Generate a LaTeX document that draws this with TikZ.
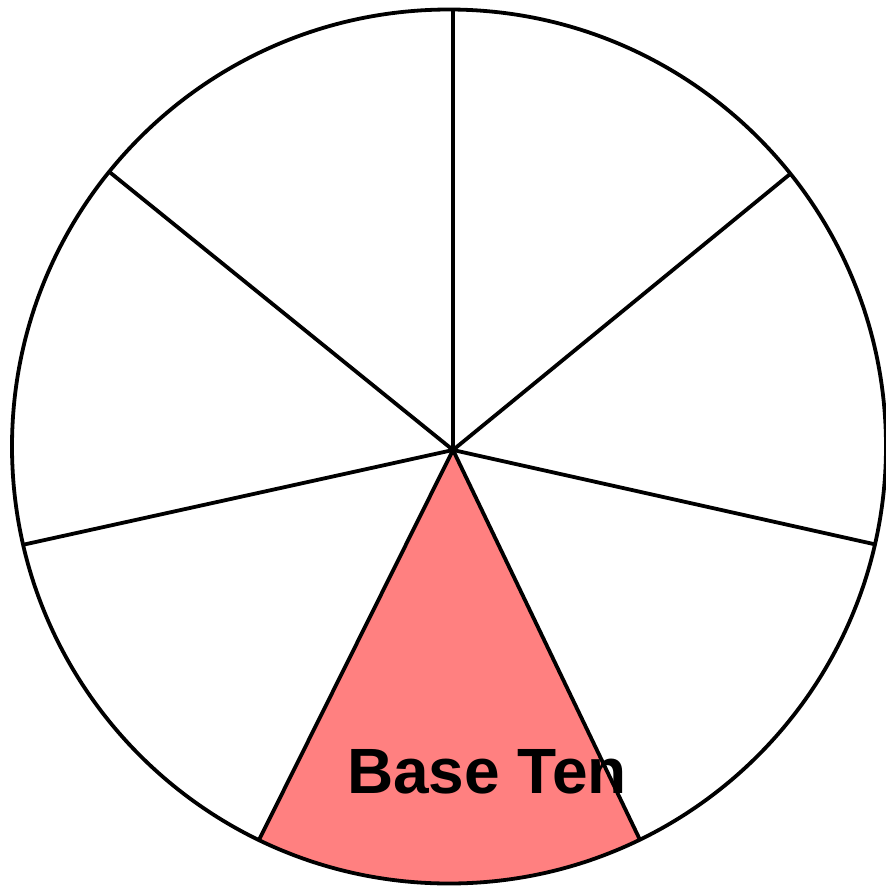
\documentclass[tikz,border=0pt]{standalone}
\usepackage{fontspec}
\setmainfont{Liberation Sans}
\usetikzlibrary{calc}
\definecolor{sectorpink}{HTML}{FF8080}
\begin{document}
\begin{tikzpicture}[x=1pt,y=-1pt,
  spoke/.style={draw=black,line width=3.8pt},
  rim/.style={draw=black,line width=3.8pt},
  label/.style={font=\bfseries\fontsize{64}{70}\selectfont,text=black,inner sep=0pt}]
\useasboundingbox (0,0) rectangle (886,887);
\coordinate (c) at (453,450);
\coordinate (p1) at (453,8);
\coordinate (p2) at (795,170);
\coordinate (p3) at (878,545);
\coordinate (p4) at (641,842);
\coordinate (p5) at (258,842);
\coordinate (p6) at (22,545);
\coordinate (p7) at (107,170);
\begin{scope}
  \clip (449,446.5) circle[radius=437];
  \fill[sectorpink] (c) -- ($(c)!1.2!(p5)$) -- ($(c)!1.2!(p4)$) -- cycle;
\end{scope}
\node[label] (t) at (487,772) {Base Ten};
\begin{scope}
  \clip (449,446.5) circle[radius=437];
  \foreach \p in {p1,p2,p3,p4,p5,p6,p7} \draw[spoke] (c) -- ($(c)!1.05!(\p)$);
\end{scope}
\draw[rim] (449,446.5) circle[radius=437];
\end{tikzpicture}
\end{document}
